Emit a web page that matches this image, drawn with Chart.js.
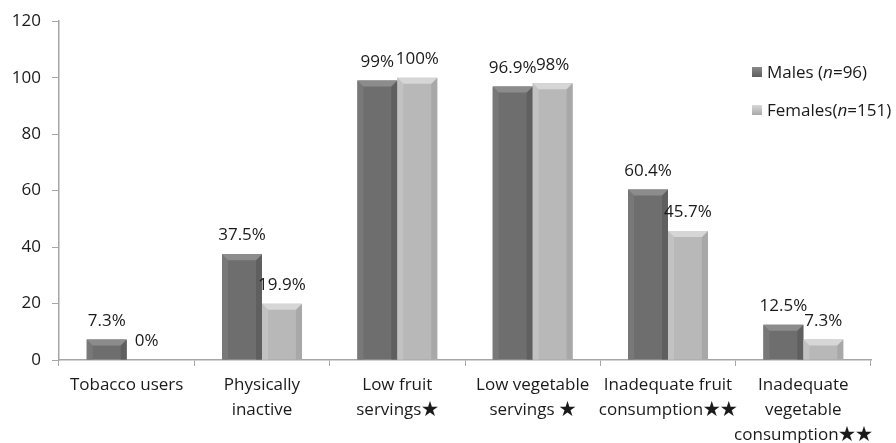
<!DOCTYPE html>
<html>
<head>
<meta charset="utf-8">
<script src="https://cdn.jsdelivr.net/npm/chart.js@4/dist/chart.umd.min.js"></script>
<style>
    html, body { margin: 0; padding: 0; background: #fff; }
    #wrap { position: relative; width: 896px; height: 443px; }
    #legend {
        position: absolute; left: 752px; top: 58px;
        font: 17px "Open Sans", sans-serif; color: #1a1a1a;
    }
    #legend div { height: 38px; line-height: 28px; white-space: nowrap; }
    #legend span.box {
        display: inline-block; width: 10px; height: 10px;
        margin-right: 5px; vertical-align: 1px;
    }
</style>
</head>
<body>
<div id="wrap">
    <canvas id="chart" width="896" height="443"></canvas>
    <div id="legend">
        <div><span class="box" style="background:linear-gradient(#8a8a8a,#5e5e5e)"></span>Males (<i>n</i>=96)</div>
        <div><span class="box" style="background:linear-gradient(#d8d8d8,#a8a8a8)"></span>Females(<i>n</i>=151)</div>
    </div>
</div>
<script>
// Категории и значения (%)
const categories = [
    ['Tobacco users'],
    ['Physically', 'inactive'],
    ['Low fruit', 'servings\u2605'],
    ['Low vegetable', 'servings \u2605'],
    ['Inadequate fruit', 'consumption\u2605\u2605'],
    ['Inadequate', 'vegetable', 'consumption\u2605\u2605'],
];
const males = [7.3, 37.5, 99, 96.9, 60.4, 12.5];
const females = [0, 19.9, 100, 98, 45.7, 7.3];
const yTicks = [0, 20, 40, 60, 80, 100, 120];

// Noto CJK даёт крупную звёздочку
const FONT = '"Open Sans", "Noto Sans CJK SC", sans-serif';
const TEXT = '#1a1a1a';
const AXIS = '#a6a6a6';

Chart.defaults.font.family = FONT;
Chart.defaults.font.size = 17;
Chart.defaults.color = TEXT;

// Цвета столбцов: тело, верхняя фаска, края
const shades = [
    { body: '#6e6e6e', top: '#8c8c8c', left: '#787878', right: '#5f5f5f' },
    { body: '#b8b8b8', top: '#d6d6d6', left: '#c2c2c2', right: '#a8a8a8' },
];

// Псевдо-3D фаска поверх столбцов
const bevelPlugin = {
    id: 'bevel',
    afterDatasetsDraw(chart) {
        const ctx = chart.ctx;
        chart.data.datasets.forEach((ds, di) => {
            const c = shades[di];
            chart.getDatasetMeta(di).data.forEach((bar) => {
                const h = bar.base - bar.y;
                if (h < 1) return;
                const l = bar.x - bar.width / 2;
                const r = bar.x + bar.width / 2;
                const b = Math.min(6, h / 2);
                ctx.save();
                ctx.fillStyle = c.left;
                ctx.beginPath();
                ctx.moveTo(l, bar.y); ctx.lineTo(l + b, bar.y + b);
                ctx.lineTo(l + b, bar.base); ctx.lineTo(l, bar.base);
                ctx.fill();
                ctx.fillStyle = c.right;
                ctx.beginPath();
                ctx.moveTo(r, bar.y); ctx.lineTo(r - b, bar.y + b);
                ctx.lineTo(r - b, bar.base); ctx.lineTo(r, bar.base);
                ctx.fill();
                ctx.fillStyle = c.top;
                ctx.beginPath();
                ctx.moveTo(l, bar.y); ctx.lineTo(r, bar.y);
                ctx.lineTo(r - b, bar.y + b); ctx.lineTo(l + b, bar.y + b);
                ctx.fill();
                ctx.restore();
            });
        });
    },
};

// Подписи значений над столбцами
const valueLabels = {
    id: 'valueLabels',
    afterDatasetsDraw(chart) {
        const ctx = chart.ctx;
        ctx.save();
        ctx.font = '17px ' + FONT;
        ctx.fillStyle = TEXT;
        ctx.textAlign = 'center';
        ctx.textBaseline = 'bottom';
        chart.data.datasets.forEach((ds, di) => {
            chart.getDatasetMeta(di).data.forEach((bar, i) => {
                ctx.fillText(ds.data[i] + '%', bar.x, bar.y - 10);
            });
        });
        ctx.restore();
    },
};

new Chart(document.getElementById('chart'), {
    type: 'bar',
    data: {
        labels: categories,
        datasets: [
            { label: 'Males (n=96)', data: males, backgroundColor: shades[0].body },
            { label: 'Females(n=151)', data: females, backgroundColor: shades[1].body },
        ],
    },
    options: {
        responsive: false,
        animation: false,
        layout: { padding: { top: 21, right: 25, left: 0, bottom: 0 } },
        categoryPercentage: 0.59,
        barPercentage: 1,
        plugins: {
            legend: { display: false },
            tooltip: { enabled: false },
        },
        scales: {
            x: {
                border: { color: AXIS, width: 1.5 },
                grid: { drawOnChartArea: false, tickLength: 6, color: AXIS, offset: true },
                ticks: {
                    autoSkip: false, maxRotation: 0, padding: 7,
                    font: { size: 17, lineHeight: 1.47 },
                },
                afterFit: (scale) => { scale.height = 83; },
            },
            y: {
                min: 0, max: 120,
                border: { color: AXIS, width: 1.5 },
                grid: { drawOnChartArea: false, tickLength: 7, color: AXIS },
                afterBuildTicks: (scale) => { scale.ticks = yTicks.map(v => ({ value: v })); },
                ticks: { padding: 11 },
                afterFit: (scale) => { scale.width = 59; },
            },
        },
    },
    plugins: [bevelPlugin, valueLabels],
});
</script>
</body>
</html>
